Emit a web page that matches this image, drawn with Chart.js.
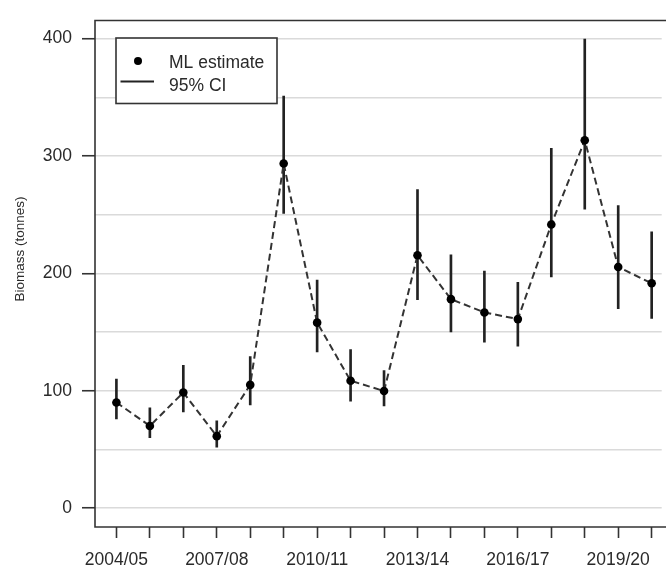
<!DOCTYPE html>
<html>
<head>
<meta charset="utf-8">
<title>Biomass (tonnes)</title>
<script src="https://cdn.jsdelivr.net/npm/chart.js@4/dist/chart.umd.min.js"></script>
<style>
  html, body { margin: 0; padding: 0; background: #fff; overflow: hidden; }
  #wrap { width: 666px; height: 569px; }
</style>
</head>
<body>
<div id="wrap"><canvas id="c" width="666" height="569"></canvas></div>
<script>
// Fishing seasons
const seasons = ['2004/05', '2005/06', '2006/07', '2007/08', '2008/09', '2009/10',
  '2010/11', '2011/12', '2012/13', '2013/14', '2014/15', '2015/16', '2016/17',
  '2017/18', '2018/19', '2019/20', '2020/21'];
const labelledSeasons = ['2004/05', '2007/08', '2010/11', '2013/14', '2016/17', '2019/20'];

// Maximum-likelihood biomass estimate (tonnes) and its 95% confidence interval
const mlEstimate = [90, 70, 98.5, 61.3, 105, 293.6, 158, 108.5, 99.7, 215.4, 178, 166.7, 161, 241.6, 313.4, 205.4, 191.5];
const ciLower    = [76, 60, 82, 52, 88, 251, 133, 91, 87, 177.6, 150, 141.4, 138, 197, 254.6, 170, 161.5];
const ciUpper    = [110, 85.5, 121.6, 74.3, 129, 351, 194.3, 135, 117.2, 271.3, 215.7, 202, 192.3, 306.4, 399.6, 257.7, 235.4];

// Axis ticks
const yTickValues = [0, 100, 200, 300, 400];
const yGridValues = [0, 50, 100, 150, 200, 250, 300, 350, 400];

const FONT = "'Liberation Sans', Arial, Helvetica, sans-serif";
const INK = '#2a2a2a';

// Open box round the plot region (top, left and bottom sides)
const boxPlugin = {
  id: 'plotBox',
  afterDraw(chart) {
    const { ctx, chartArea: a } = chart;
    ctx.save();
    ctx.strokeStyle = '#333';
    ctx.lineWidth = 1.6;
    ctx.beginPath();
    ctx.moveTo(chart.width, a.top);
    ctx.lineTo(a.left, a.top);
    ctx.lineTo(a.left, a.bottom);
    ctx.lineTo(chart.width, a.bottom);
    ctx.stroke();
    ctx.restore();
  }
};

// Rotated y-axis title
const yTitlePlugin = {
  id: 'yTitle',
  afterDraw(chart) {
    const { ctx } = chart;
    ctx.save();
    ctx.translate(20, 249);
    ctx.rotate(-Math.PI / 2);
    ctx.fillStyle = INK;
    ctx.font = '13.5px ' + FONT;
    ctx.textAlign = 'center';
    ctx.textBaseline = 'middle';
    ctx.fillText('Biomass (tonnes)', 0, 0);
    ctx.restore();
  }
};

// Boxed key in the upper-left corner
const keyPlugin = {
  id: 'keyBox',
  afterDraw(chart) {
    const { ctx, chartArea: a } = chart;
    const x = a.left + 21, y = a.top + 17.5, w = 161, h = 65.5;
    ctx.save();
    ctx.fillStyle = '#fff';
    ctx.fillRect(x, y, w, h);
    ctx.strokeStyle = '#333';
    ctx.lineWidth = 1.6;
    ctx.strokeRect(x, y, w, h);
    // point symbol
    ctx.fillStyle = '#000';
    ctx.beginPath();
    ctx.arc(x + 22, y + 23, 4, 0, Math.PI * 2);
    ctx.fill();
    // interval symbol
    ctx.strokeStyle = '#222';
    ctx.lineWidth = 1.8;
    ctx.beginPath();
    ctx.moveTo(x + 4.5, y + 43.5);
    ctx.lineTo(x + 38, y + 43.5);
    ctx.stroke();
    // labels
    ctx.fillStyle = INK;
    ctx.font = '17.5px ' + FONT;
    ctx.textAlign = 'left';
    ctx.textBaseline = 'middle';
    ctx.fillText('ML estimate', x + 53, y + 25);
    ctx.fillText('95% CI', x + 53, y + 48);
    ctx.restore();
  }
};

new Chart(document.getElementById('c'), {
  data: {
    datasets: [
      {
        type: 'bar',
        label: '95% CI',
        data: seasons.map((s, i) => ({ x: i + 1, y: [ciLower[i], ciUpper[i]] })),
        backgroundColor: '#222',
        borderWidth: 0,
        barThickness: 2,
        grouped: false,
        order: 1
      },
      {
        type: 'line',
        label: 'ML estimate',
        data: seasons.map((s, i) => ({ x: i + 1, y: mlEstimate[i] })),
        borderColor: '#333',
        borderWidth: 2,
        borderDash: [7, 4],
        tension: 0,
        fill: false,
        pointRadius: 4.3,
        pointBackgroundColor: '#000',
        pointBorderWidth: 0,
        order: 0
      }
    ]
  },
  options: {
    responsive: false,
    animation: false,
    devicePixelRatio: 1,
    layout: { padding: { top: 10, left: 0, right: 0, bottom: 0 } },
    plugins: {
      legend: { display: false },
      tooltip: { enabled: false }
    },
    scales: {
      x: {
        type: 'linear',
        offset: false,
        min: 0.36,
        max: 17.30,
        afterBuildTicks(scale) {
          scale.ticks = seasons.map((s, i) => ({ value: i + 1 }));
        },
        afterFit(scale) { scale.height = 42; },
        ticks: {
          autoSkip: false,
          maxRotation: 0,
          minRotation: 0,
          padding: 12,
          color: INK,
          font: { family: FONT, size: 17.5 },
          callback(value) {
            const s = seasons[Math.round(value) - 1];
            return labelledSeasons.includes(s) ? s : '';
          }
        },
        grid: {
          offset: false,
          drawOnChartArea: false,
          tickLength: 11,
          tickColor: '#333',
          tickWidth: 1.6
        },
        border: { display: false }
      },
      y: {
        type: 'linear',
        min: -16.1,
        max: 415.4,
        afterBuildTicks(scale) {
          scale.ticks = yGridValues.map(v => ({ value: v }));
        },
        afterFit(scale) { scale.width = 95; },
        ticks: {
          padding: 10,
          color: INK,
          font: { family: FONT, size: 17.5 },
          callback(value) {
            return yTickValues.includes(value) ? String(value) : '';
          }
        },
        grid: {
          color: '#dadada',
          lineWidth: 1.5,
          tickLength: 13,
          tickWidth: 1.6,
          tickColor(ctx) {
            return ctx.tick && yTickValues.includes(ctx.tick.value) ? '#333' : 'rgba(0,0,0,0)';
          }
        },
        border: { display: false }
      }
    }
  },
  plugins: [boxPlugin, yTitlePlugin, keyPlugin]
});
</script>
</body>
</html>
